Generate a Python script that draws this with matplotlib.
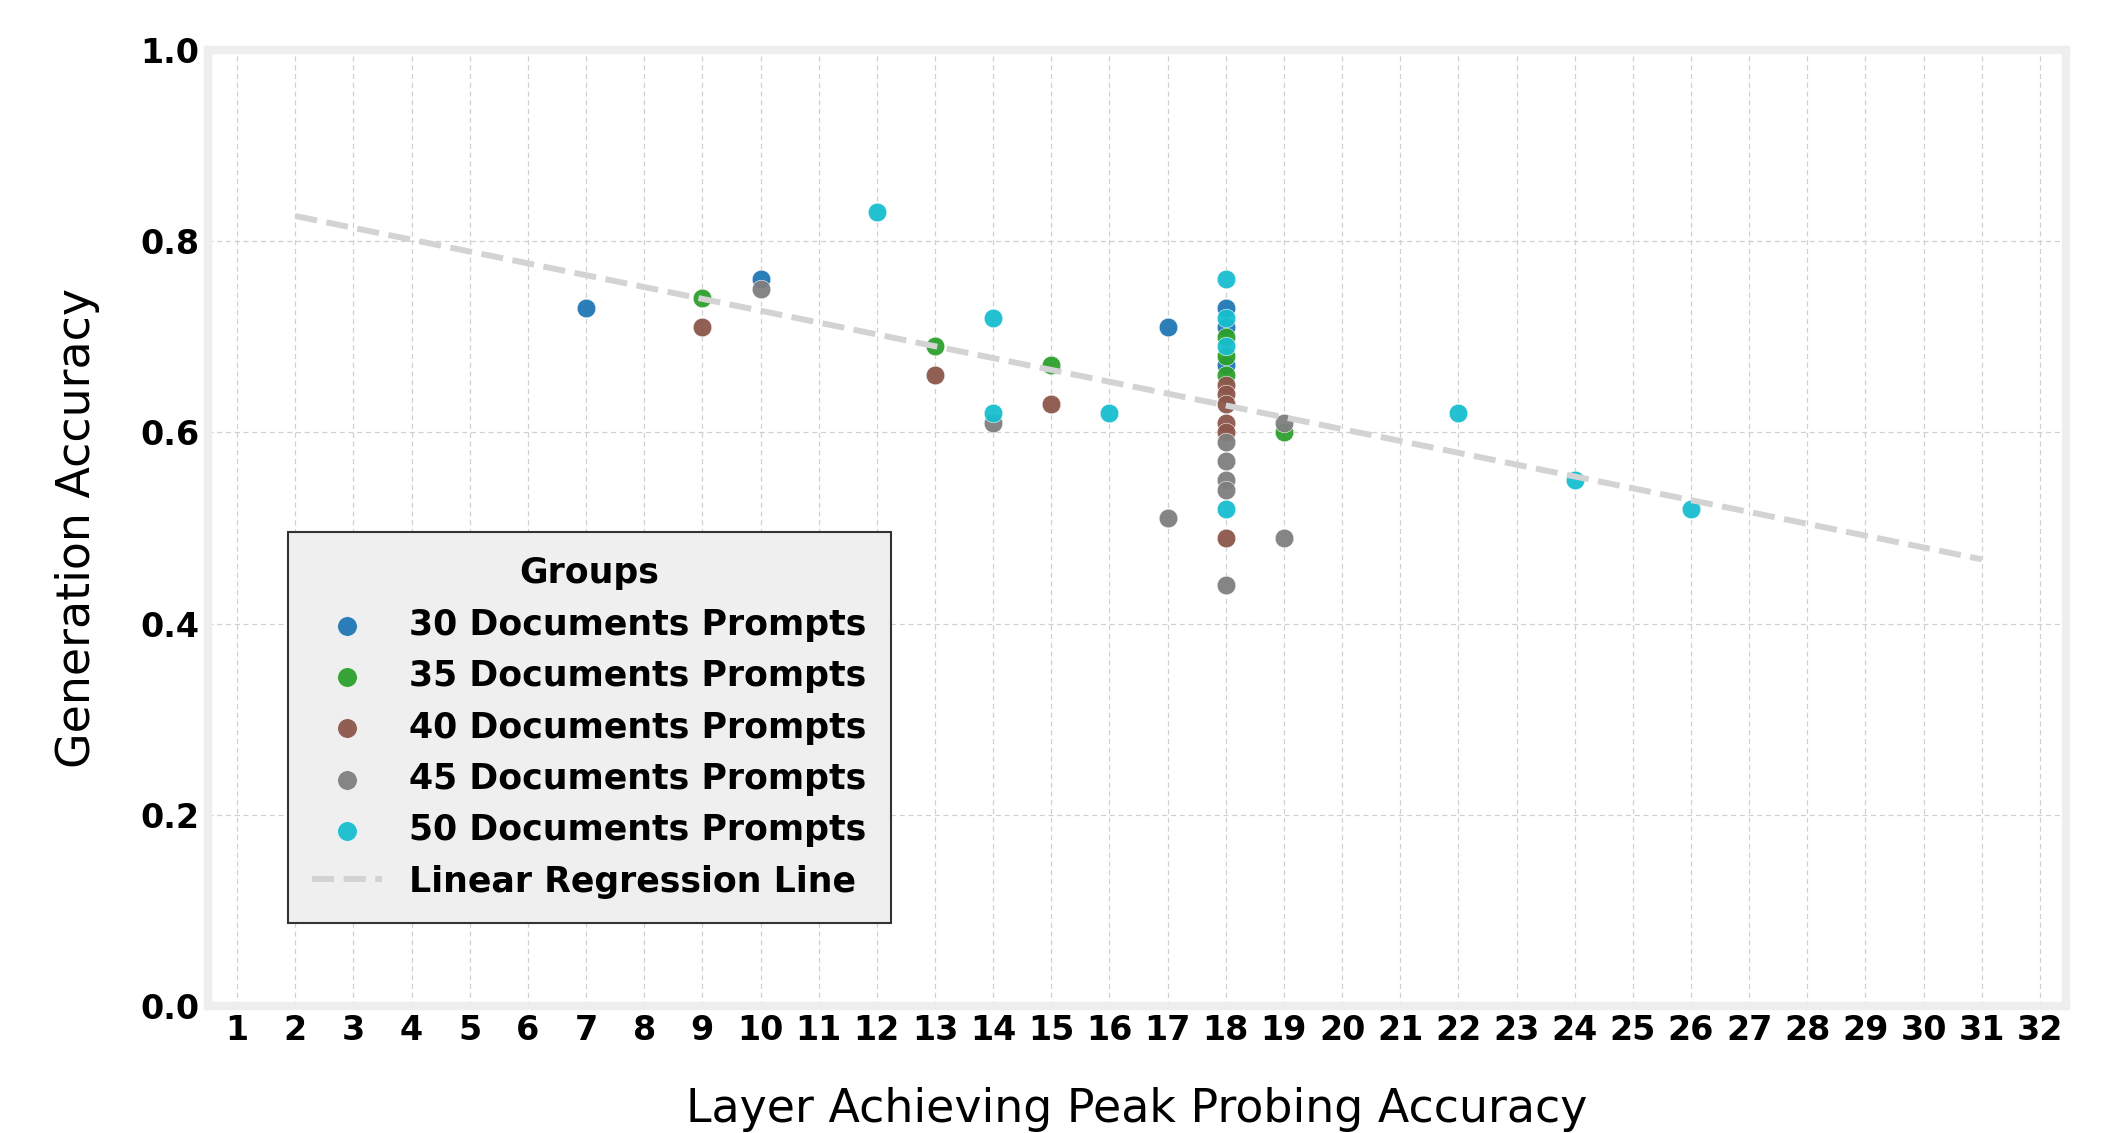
import matplotlib
matplotlib.use("Agg")
import matplotlib.pyplot as plt
import numpy as np

# ---- data ----
groups = ["30 Documents Prompts", "35 Documents Prompts", "40 Documents Prompts",
          "45 Documents Prompts", "50 Documents Prompts"]
colors = ["#1f77b4", "#2ca02c", "#8c564b", "#7f7f7f", "#17becf"]

layers_30 = [7, 10, 17, 18, 18, 18]
acc_30 = [0.73, 0.76, 0.71, 0.73, 0.71, 0.67]

layers_35 = [9, 13, 15, 19, 18, 18, 18]
acc_35 = [0.74, 0.69, 0.67, 0.60, 0.70, 0.68, 0.66]

layers_40 = [9, 13, 15, 18, 18, 18, 18, 18, 18]
acc_40 = [0.71, 0.66, 0.63, 0.65, 0.64, 0.63, 0.61, 0.60, 0.49]

layers_45 = [10, 14, 17, 19, 19, 18, 18, 18, 18, 18]
acc_45 = [0.75, 0.61, 0.51, 0.61, 0.49, 0.59, 0.57, 0.55, 0.54, 0.44]

layers_50 = [12, 14, 14, 16, 18, 18, 18, 18, 22, 24, 26]
acc_50 = [0.83, 0.72, 0.62, 0.62, 0.76, 0.72, 0.69, 0.52, 0.62, 0.55, 0.52]

reg_x_range = [2, 31]
reg_slope = -0.01238
reg_intercept = 0.851

x_ticks = list(range(1, 33))
y_ticks = [0.0, 0.2, 0.4, 0.6, 0.8, 1.0]

# ---- figure ----
fig = plt.figure(figsize=(21.1, 11.33), dpi=100)
ax = fig.add_axes([0.0986, 0.112, 0.8806, 0.844])

all_layers = [layers_30, layers_35, layers_40, layers_45, layers_50]
all_acc = [acc_30, acc_35, acc_40, acc_45, acc_50]

handles = []
for lx, ly, c, g in zip(all_layers, all_acc, colors, groups):
    h = ax.scatter(lx, ly, s=180, color=c, label=g, zorder=3,
                   edgecolors="white", linewidths=0.4, alpha=0.95)
    handles.append(h)

rx = np.array(reg_x_range, dtype=float)
ry = reg_slope * rx + reg_intercept
ln, = ax.plot(rx, ry, linestyle="--", color="#d3d3d3", linewidth=4.3,
              label="Linear Regression Line", zorder=4)
handles.append(ln)

ax.set_xlim(0.5, 32.45)
ax.set_ylim(0.0, 1.0)
ax.set_xticks(x_ticks)
ax.set_xticklabels([str(t) for t in x_ticks])
ax.set_yticks(y_ticks)
ax.set_yticklabels([f"{t:.1f}" for t in y_ticks])
ax.tick_params(axis="both", length=0, labelsize=24, pad=6)
for lab in ax.get_xticklabels() + ax.get_yticklabels():
    lab.set_fontweight("bold")

ax.grid(True, which="major", axis="both", linestyle=(0, (4, 3)),
        color="#d0d0d0", linewidth=0.9, zorder=0)
ax.set_axisbelow(True)

for sp in ax.spines.values():
    sp.set_color("#eeeeee")
    sp.set_linewidth(6)

ax.set_xlabel("Layer Achieving Peak Probing Accuracy", fontsize=33)
ax.xaxis.set_label_coords(0.5, -0.085)
ax.set_ylabel("Generation Accuracy", fontsize=33)
ax.yaxis.set_label_coords(-0.058, 0.5)

leg = ax.legend(handles=handles, loc="lower left", bbox_to_anchor=(0.043, 0.087),
                borderaxespad=0, title="Groups", fancybox=False, framealpha=1,
                facecolor="#efefef", edgecolor="#333333",
                prop={"size": 25, "weight": "bold"},
                title_fontproperties={"size": 25, "weight": "bold"},
                labelspacing=0.5, borderpad=0.7, handlelength=2.0,
                handletextpad=0.8, markerscale=1.05)
leg.get_frame().set_linewidth(1.5)
leg.set_zorder(5)

fig.savefig("out.png", dpi=100, facecolor="white")
